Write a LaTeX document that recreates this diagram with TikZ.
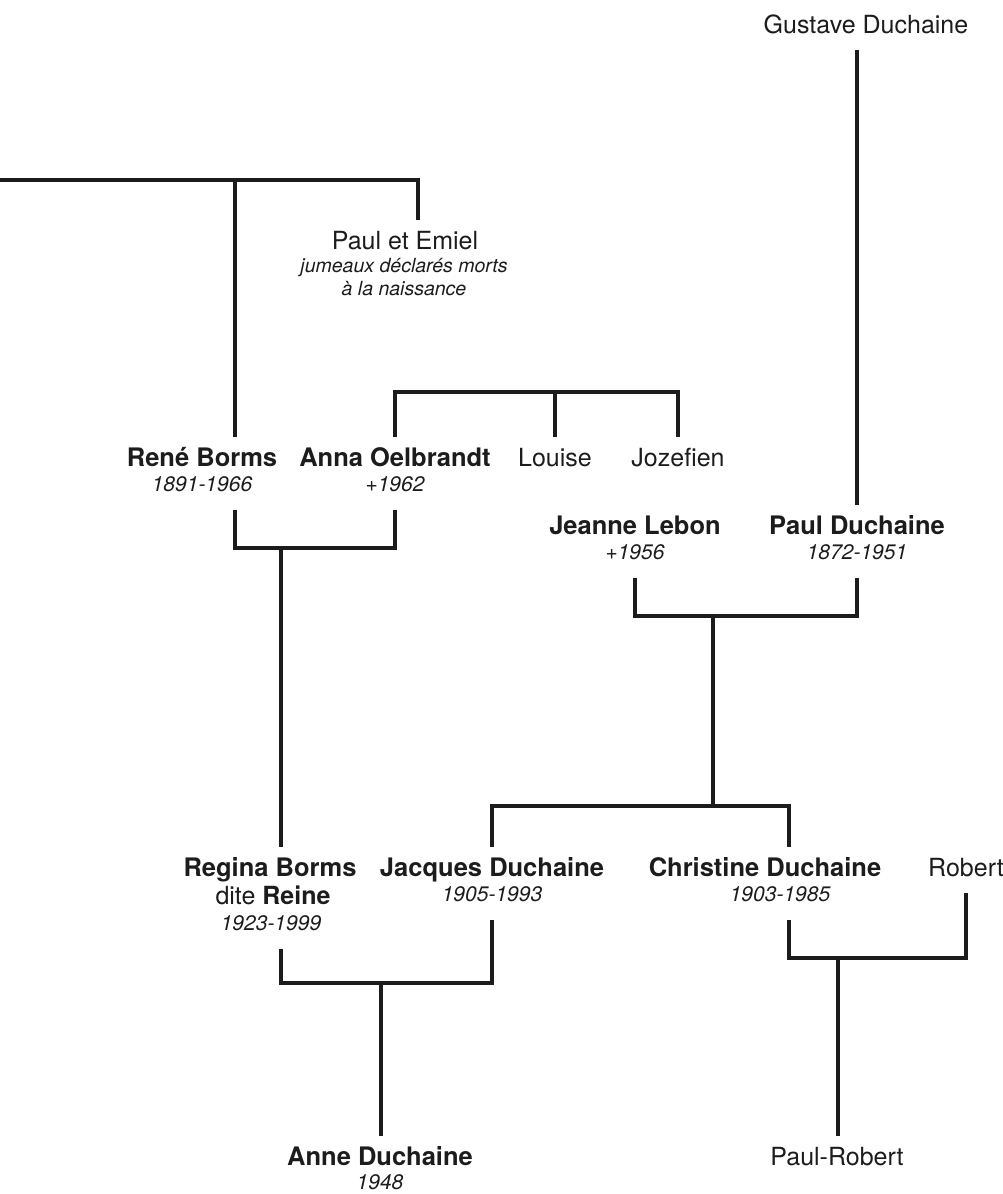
\documentclass[tikz,border=0pt]{standalone}
\usepackage{fontspec}
\setmainfont{TeX Gyre Heros}
\usepackage{tikz}
\usetikzlibrary{calc,positioning}
\usepackage{xcolor}
\definecolor{Encre}{RGB}{28,28,28}

\begin{document}
\begin{tikzpicture}[x=1pt,y=-1pt,line width=3.6pt,color=Encre,
  nm/.style={anchor=base,font=\fontsize{25.5}{30}\selectfont\bfseries,text height=17pt,text depth=5pt,inner xsep=0pt,inner ysep=10pt},
  pl/.style={nm,font=\fontsize{25}{30}\selectfont},
  dt/.style={anchor=base,font=\fontsize{21}{25}\selectfont\itshape,text height=15pt,text depth=5pt,inner xsep=0pt,inner ysep=12pt},
  note/.style={dt,font=\fontsize{19.5}{24}\selectfont\itshape}]
\useasboundingbox (0,0) rectangle (1003,1194);
%
% names and dates
\node[pl] (gustave) at (866,33) {Gustave Duchaine};
\node[pl] (twins) at (405,249) {Paul et Emiel};
\node[note] (twinsA) at (404,272) {jumeaux déclarés morts};
\node[note] (twinsB) at (404,295) {à la naissance};
\node[nm] (rene) at (202,466) {René Borms};
\node[dt] (reneD) at (202,491) {1891-1966};
\node[nm] (anna) at (395,466) {Anna Oelbrandt};
\node[dt] (annaD) at (395,491) {+1962};
\node[pl] (louise) at (555,466) {Louise};
\node[pl] (jozefien) at (678,466) {Jozefien};
\node[nm] (jeanne) at (635,534) {Jeanne Lebon};
\node[dt] (jeanneD) at (635,559) {+1956};
\node[nm] (paul) at (857,534) {Paul Duchaine};
\node[dt] (paulD) at (857,559) {1872-1951};
\node[nm] (regina) at (270,876) {Regina Borms};
\node[pl] (dite) at (273,904) {dite \textbf{Reine}};
\node[dt] (reginaD) at (271,930) {1923-1999};
\node[nm] (jacques) at (492,876) {Jacques Duchaine};
\node[dt] (jacquesD) at (492,901) {1905-1993};
\node[nm] (christine) at (765,876) {Christine Duchaine};
\node[dt] (christineD) at (780,901) {1903-1985};
\node[pl] (robert) at (966,876) {Robert};
\node[nm] (anne) at (380,1165) {Anne Duchaine};
\node[dt] (anneD) at (380,1189) {1948};
\node[pl] (paulrobert) at (837,1165) {Paul-Robert};
%
% junctions
\coordinate (bord) at (0,180);
\coordinate (sibs) at (555,392);
\coordinate (rcouple) at (281,548);
\coordinate (dcouple) at (713,616);
\coordinate (kids) at (713,806);
\coordinate (acouple) at (381,983);
\coordinate (ccouple) at (838,958);
%
% lines
\draw (paul.north) -- (paul.north |- gustave.south);
\draw (bord) -| ([xshift=13pt]twins.north);
\draw ([xshift=33pt]rene.north) -- ([xshift=33pt]rene.north |- bord);
\draw (anna.north) |- (sibs) -| (jozefien.north);
\draw (louise.north) -- (sibs);
\draw ([xshift=33pt]reneD.south) |- (rcouple) -| (annaD.south);
\draw (rcouple) -- (rcouple |- regina.north);
\draw (jeanneD.south) |- (dcouple) -| (paulD.south);
\draw (dcouple) -- (kids);
\draw (jacques.north) |- (kids) -| ([xshift=24pt]christine.north);
\draw ([xshift=10pt]reginaD.south) |- (acouple) -| (jacquesD.south);
\draw (acouple) -- (acouple |- anne.north);
\draw ([xshift=9pt]christineD.south) |- (ccouple) -| (robert.south);
\draw (ccouple) -- (ccouple |- paulrobert.north);
%
\end{tikzpicture}
\end{document}
